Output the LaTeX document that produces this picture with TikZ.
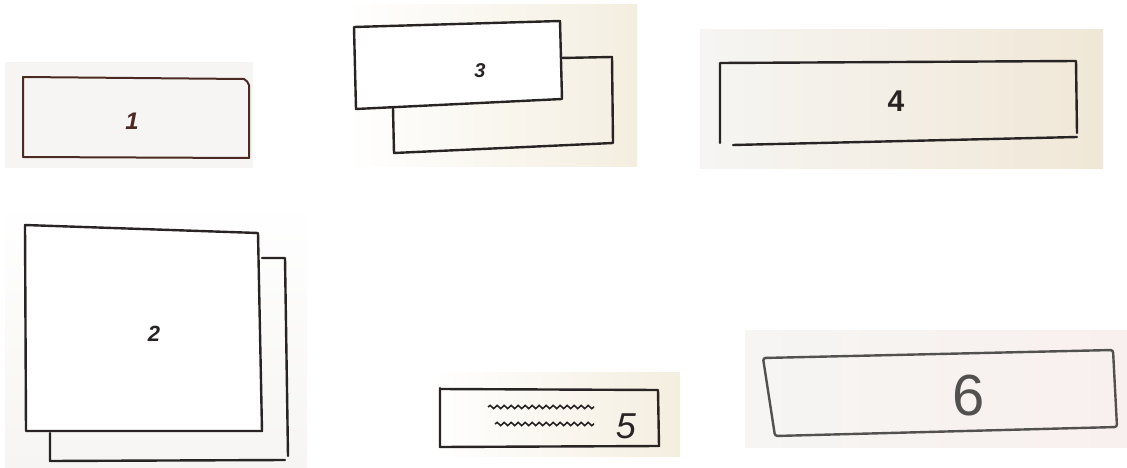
\documentclass[tikz,border=0pt]{standalone}
\usepackage{fontspec}
\setmainfont{Liberation Sans}
\usetikzlibrary{decorations.pathmorphing}
\definecolor{ink}{RGB}{40,36,36}
\definecolor{brownink}{RGB}{75,42,36}
\definecolor{beigeA}{RGB}{244,238,224}
\definecolor{beigeB}{RGB}{240,231,214}
\definecolor{paleA}{RGB}{246,245,243}
\definecolor{pinkA}{RGB}{248,240,238}
\tikzset{
  pen/.style={draw=ink, line width=2.4pt, line cap=round, line join=round},
  brownpen/.style={draw=brownink, line width=2pt, line cap=round, line join=round},
  digit/.style={font=\fontsize{24}{26}\selectfont, text=ink, inner sep=0pt},
  wave/.style={draw=ink, line width=1.6pt, decorate, decoration={snake, amplitude=1.6pt, segment length=7pt}}
}
\begin{document}
\begin{tikzpicture}[x=1pt,y=-1pt]
\useasboundingbox (0,0) rectangle (1127,468);
\fill[white] (0,0) rectangle (1127,468);
% photo patches
\fill[paleA] (5,62) rectangle (253,168);
\shade[left color=white, right color=beigeA] (345,5) rectangle (637,166);
\shade[left color=paleA, right color=beigeB] (700,30) rectangle (1103,168);
\shade[top color=white, bottom color=paleA] (5,200) rectangle (307,468);
\shade[left color=white, right color=beigeA] (432,372) rectangle (680,456);
\shade[left color=paleA, right color=pinkA] (745,330) rectangle (1127,447);
% box 1
\draw[brownpen] (23,77) -- (244,79) to[bend left=20] (249,85) -- (249,158) -- (23,157) -- cycle;
\node[digit, font=\fontsize{24}{26}\selectfont\itshape\bfseries, text=brownink] (n1) at (132,121) {1};
% box 3 (back then front)
\draw[pen] (560,58) -- (612,57) -- (613,143) -- (394,153) -- (393,108);
\fill[white] (354,27) -- (560,21) -- (562,99) -- (356,109) -- cycle;
\draw[pen] (354,27) -- (560,21) -- (562,99) -- (356,109) -- cycle;
\node[digit, font=\fontsize{20}{22}\selectfont\bfseries\itshape] (n3) at (480,71) {3};
% box 4
\draw[pen] (720,143) -- (720,63) -- (1076,61) -- (1077,133);
\draw[pen] (733,145) -- (1077,137);
\node[digit, font=\fontsize{30}{32}\selectfont\bfseries] (n4) at (896,101) {4};
% box 2
\draw[pen] (262,258) -- (285,258) -- (288,456);
\draw[pen] (50,433) -- (50,461) -- (285,460);
\fill[white] (25,225) -- (258,233) -- (262,431) -- (26,431) -- cycle;
\draw[pen] (25,225) -- (258,233) -- (262,431) -- (26,431) -- cycle;
\node[digit, font=\fontsize{22}{24}\selectfont\bfseries\itshape] (n2) at (154,334) {2};
% box 5
\draw[pen] (440,388) -- (440,447) -- (659,446) -- (658,390) -- (440,389);
\draw[wave] (488,407) -- (594,407);
\draw[wave] (495,424) -- (594,424);
\node[digit, font=\fontsize{36}{38}\selectfont\itshape] (n5) at (626,426) {5};
% box 6
\draw[pen, draw=ink!80, rounded corners=2.5pt] (763,358) -- (1113,350) -- (1117,427) -- (775,436) -- cycle;
\node[digit, font=\fontsize{58}{60}\selectfont, text=ink!80] (n6) at (969,396) {6};
\end{tikzpicture}
\end{document}
